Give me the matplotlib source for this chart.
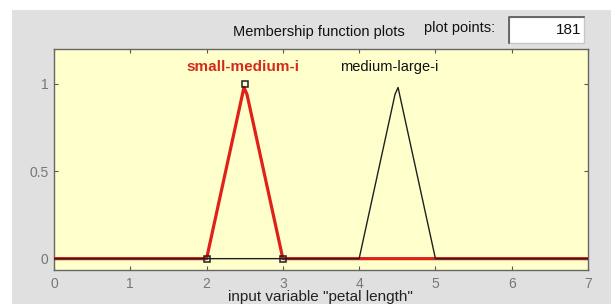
import matplotlib.pyplot as plt
from matplotlib.patches import Rectangle
from matplotlib.lines import Line2D

plt.rcParams['font.family'] = ['Liberation Sans', 'DejaVu Sans']

# membership function polylines (181 plot points)
x_small_med = [0, 2, 2.49, 2.53, 3, 7]
y_small_med = [0, 0, 0.98, 0.94, 0, 0]
x_med_large = [0, 4, 4.47, 4.51, 5, 7]
y_med_large = [0, 0, 0.94, 0.98, 0, 0]
# parameter vertices of the selected function
vert_x = [2, 2.5, 3]
vert_y = [0, 1, 0]

mf_names = ["small-medium-i", "medium-large-i"]
mf_label_x = [2.5, 4.5]
x_ticks = [0, 1, 2, 3, 4, 5, 6, 7]
y_ticks = [0, 0.5, 1]
y_tick_labels = ["0", "0.5", "1"]
plot_points = "181"

W, H = 611, 304
fig = plt.figure(figsize=(W / 100, H / 100), dpi=100, facecolor='white')

# grey panel
fig.patches.append(Rectangle((12 / W, 0), 1, (H - 10) / H, transform=fig.transFigure,
                             facecolor='#e0e0e0', edgecolor='none', zorder=-10))

ax = fig.add_axes([54 / W, (H - 270) / H, 534 / W, 221 / H])
ax.set_facecolor('#ffffcc')

ax.plot(x_small_med, y_small_med, color='#e0201a', lw=2.3, zorder=3)
ax.plot(x_med_large, y_med_large, color='#202020', lw=1.0, zorder=4)
ax.plot(vert_x, vert_y, linestyle='none', marker='s', markersize=5,
        markerfacecolor='none', markeredgecolor='#202020', markeredgewidth=1.1, zorder=5)

ax.text(mf_label_x[0] - 0.02, 1.095, mf_names[0], color='#d42a1e', fontsize=11,
        fontweight='bold', ha='center', va='center')
ax.text(mf_label_x[1] - 0.1, 1.095, mf_names[1], color='#111111', fontsize=10.5,
        ha='center', va='center')

ax.set_xlim(0, 7)
ax.set_ylim(-0.065, 1.2)
ax.set_xticks(x_ticks)
ax.set_yticks(y_ticks)
ax.set_yticklabels(y_tick_labels)
ax.tick_params(direction='in', length=3, width=0.8, color='#555555', top=True, right=True,
               labelsize=10, labelcolor='#777777')
ax.tick_params(axis='x', pad=5)
ax.tick_params(axis='y', pad=4)
for s in ax.spines.values():
    s.set_color('#666666')
    s.set_linewidth(1.0)

# title and plot-points box
fig.text(319 / W, 1 - 32 / H, "Membership function plots", fontsize=10.5, color='#111111',
         ha='center', va='center')
fig.text(460 / W, 1 - 28 / H, "plot points:", fontsize=10.5, color='#111111',
         ha='center', va='center')
fig.patches.append(Rectangle((509 / W, 1 - 43 / H), 75 / W, 26 / H, transform=fig.transFigure,
                             facecolor='white', edgecolor='#c8c8c8', lw=1.0))
# inset edge (darker top and left)
fig.lines.append(Line2D([509 / W, 509 / W, 584 / W], [1 - 43 / H, 1 - 17 / H, 1 - 17 / H],
                        transform=fig.transFigure, color='#555555', lw=1.2))
fig.text(581 / W, 1 - 30 / H, plot_points, fontsize=11, color='#111111',
         ha='right', va='center')

# x label, at the very bottom of the picture
fig.text(320 / W, 3 / H, 'input variable "petal length"', fontsize=11, color='#222222',
         ha='center', va='baseline')

fig.savefig('out.png', dpi=100, facecolor=fig.get_facecolor())
